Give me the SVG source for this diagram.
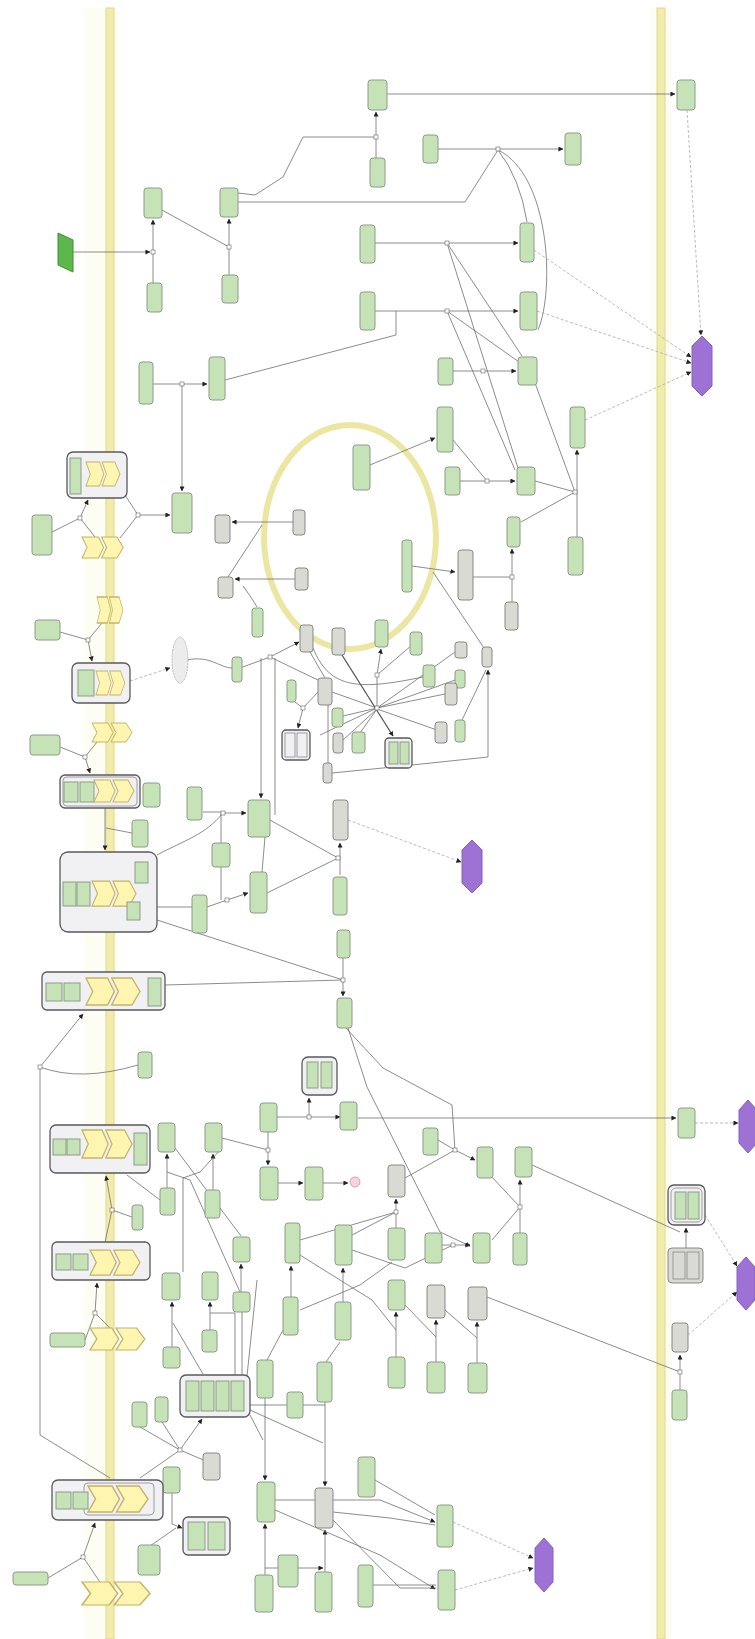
<svg xmlns="http://www.w3.org/2000/svg" xmlns:xlink="http://www.w3.org/1999/xlink" width="755" height="1639" viewBox="0 0 755 1639">
<style>
.n{fill:#c6e3b8;stroke:#8c9c88;stroke-width:1}
.g{fill:#d9dad4;stroke:#858a84;stroke-width:1}
.c{fill:#f1f1f4;stroke:#5a5a5e;stroke-width:1.3}
.ci{fill:none;stroke:#8a8a90;stroke-width:0.8}
.r{fill:#fdf5b0;stroke:#c4b36a;stroke-width:1}
.pu{fill:#9e72d4;stroke:#8461bd;stroke-width:1}
.e{fill:none;stroke:#6e6e6e;stroke-width:0.8}
.ed{fill:none;stroke:#555;stroke-width:1.3}
.d{fill:none;stroke:#a8a8b0;stroke-width:0.8;stroke-dasharray:3 2}
.band{fill:#f1ecab;stroke:#e2d88e;stroke-width:1}
.pr{fill:#fff;stroke:#666;stroke-width:0.6}
</style>
<defs>
<marker id="ar" viewBox="0 0 6 6" refX="5.5" refY="3" markerWidth="5" markerHeight="5" markerUnits="userSpaceOnUse" orient="auto"><path d="M0,0 L6,3 L0,6 z" fill="#222"/></marker>
<path id="rc" d="M0,0 H16 L21,10 L16,20 H0 L5,10 Z M19,0 H34 L40,10 L34,20 H19 L24,10 Z"/>
</defs>
<rect width="755" height="1639" fill="#ffffff"/>
<g id="membranes">
<rect x="84" y="8" width="34" height="1631" fill="#fefdf4"/>
<rect x="106" y="8" width="8" height="1631" class="band"/>
<rect x="650" y="8" width="22" height="1631" fill="#fefdf4"/>
<rect x="657" y="8" width="8" height="1631" class="band"/>
<ellipse id="nucleus" cx="350" cy="537" rx="86" ry="112" fill="none" stroke="#ebe6a2" stroke-width="6"/>
</g>
<g id="connectors">
<path class="e" d="M73,252 H150" marker-end="url(#ar)"/>
<path class="e" d="M153,283 V220" marker-end="url(#ar)"/>
<path class="e" d="M162,210 L229,247"/>
<path class="e" d="M229,275 V219" marker-end="url(#ar)"/>
<path class="e" d="M238,193 L255,195 L283,177 L303,137 H376"/>
<path class="e" d="M238,202 H465 L498,150"/>
<path class="e" d="M376,158 V112" marker-end="url(#ar)"/>
<path class="e" d="M387,94 H675" marker-end="url(#ar)"/>
<path class="e" d="M438,149 H563" marker-end="url(#ar)"/>
<path class="e" d="M498,150 Q520,178 527,222"/>
<path class="e" d="M498,150 C550,175 555,290 538,330"/>
<path class="e" d="M375,243 H518" marker-end="url(#ar)"/>
<path class="e" d="M375,311 H518" marker-end="url(#ar)"/>
<path class="e" d="M396,311 V335 L225,380"/>
<path class="e" d="M447,243 L522,356"/>
<path class="e" d="M447,243 L518,468"/>
<path class="e" d="M447,311 L519,362"/>
<path class="e" d="M447,311 L515,470"/>
<path class="e" d="M453,371 H516" marker-end="url(#ar)"/>
<path class="e" d="M460,481 H515" marker-end="url(#ar)"/>
<path class="e" d="M453,440 L487,481"/>
<path class="e" d="M535,481 L575,492"/>
<path class="e" d="M535,383 L575,492"/>
<path class="e" d="M577,537 V450" marker-end="url(#ar)"/>
<path class="e" d="M575,492 L521,522"/>
<path class="e" d="M473,577 H512"/>
<path class="e" d="M512,602 V549" marker-end="url(#ar)"/>
<path class="d" d="M585,420 L691,372" marker-end="url(#ar)"/>
<path class="d" d="M534,250 L691,357" marker-end="url(#ar)"/>
<path class="d" d="M537,311 L691,363" marker-end="url(#ar)"/>
<path class="d" d="M687,110 L701,335" marker-end="url(#ar)"/>
<path class="e" d="M370,465 L435,438" marker-end="url(#ar)"/>
<path class="e" d="M293,522 H232" marker-end="url(#ar)"/>
<path class="e" d="M295,579 H235" marker-end="url(#ar)"/>
<path class="e" d="M243,586 Q252,598 257,607"/>
<path class="e" d="M228,577 L262,525"/>
<path class="e" d="M412,566 L455,572" marker-end="url(#ar)"/>
<path class="e" d="M433,572 L484,648"/>
<path class="e" d="M332,773 L393,767 L488,757 V670" marker-end="url(#ar)"/>
<path class="e" d="M153,384 H207" marker-end="url(#ar)"/>
<path class="e" d="M182,384 V491" marker-end="url(#ar)"/>
<path class="e" d="M52,532 L80,518"/>
<path class="e" d="M95,537 L80,518 L88,500" marker-end="url(#ar)"/>
<path class="e" d="M125,495 L138,515 L120,538"/>
<path class="e" d="M138,515 H170" marker-end="url(#ar)"/>
<path class="e" d="M60,632 L88,640"/>
<path class="e" d="M102,623 L88,640 L92,661" marker-end="url(#ar)"/>
<path class="d" d="M130,681 L170,668" marker-end="url(#ar)"/>
<path class="e" d="M187,660 C210,655 220,668 232,668"/>
<path class="e" d="M240,668 L270,657 L299,642" marker-end="url(#ar)"/>
<path class="e" d="M261,658 V798" marker-end="url(#ar)"/>
<path class="e" d="M275,658 V815"/>
<path class="e" d="M270,657 L320,681"/>
<path class="e" d="M60,747 L85,757"/>
<path class="e" d="M97,742 L85,757 L90,773" marker-end="url(#ar)"/>
<path class="e" d="M105,808 V850" marker-end="url(#ar)"/>
<path class="e" d="M132,833 L106,828"/>
<path class="e" d="M313,648 C330,690 360,690 423,677"/>
<path class="ed" d="M342,655 L393,736" marker-end="url(#ar)"/>
<path class="e" d="M377,675 L381,649" marker-end="url(#ar)"/>
<path class="e" d="M412,645 L377,675"/>
<path class="e" d="M377,675 L377,708"/>
<path class="e" d="M455,652 L377,708"/>
<path class="e" d="M455,680 L377,708"/>
<path class="e" d="M445,694 L377,708"/>
<path class="e" d="M437,730 L377,709"/>
<path class="e" d="M332,692 L377,708"/>
<path class="e" d="M343,716 L377,708"/>
<path class="e" d="M343,740 L377,709"/>
<path class="e" d="M360,733 L377,709"/>
<path class="e" d="M462,720 L486,670"/>
<path class="e" d="M310,652 L325,678"/>
<path class="e" d="M295,702 L303,708"/>
<path class="e" d="M318,692 L303,708 L298,728" marker-end="url(#ar)"/>
<path class="e" d="M328,705 V763"/>
<path class="e" d="M377,708 L320,735"/>
<path class="e" d="M203,812 H223"/>
<path class="e" d="M223,813 H246" marker-end="url(#ar)"/>
<path class="e" d="M221,843 V813"/>
<path class="e" d="M221,867 V900"/>
<path class="e" d="M207,907 L227,900"/>
<path class="e" d="M227,900 L248,893" marker-end="url(#ar)"/>
<path class="e" d="M157,855 C185,840 205,835 223,813"/>
<path class="e" d="M157,907 H192"/>
<path class="e" d="M270,820 L338,858"/>
<path class="e" d="M267,893 L338,858"/>
<path class="e" d="M265,837 L262,872"/>
<path class="e" d="M340,875 V858"/>
<path class="e" d="M340,858 V843" marker-end="url(#ar)"/>
<path class="d" d="M348,820 L461,862" marker-end="url(#ar)"/>
<path class="e" d="M343,958 V996" marker-end="url(#ar)"/>
<path class="e" d="M157,920 L343,980"/>
<path class="e" d="M165,985 L343,980"/>
<path class="e" d="M40,1067 L83,1014" marker-end="url(#ar)"/>
<path class="e" d="M40,1067 Q80,1082 138,1065"/>
<path class="e" d="M40,1067 V1435 L110,1478"/>
<path class="e" d="M112,1210 L106,1176" marker-end="url(#ar)"/>
<path class="e" d="M132,1217 L112,1210 L105,1242"/>
<path class="e" d="M127,1175 L160,1200"/>
<path class="e" d="M95,1313 L97,1283" marker-end="url(#ar)"/>
<path class="e" d="M85,1340 L95,1313 L110,1328"/>
<path class="e" d="M48,1578 L83,1557"/>
<path class="e" d="M100,1582 L83,1557 L95,1523" marker-end="url(#ar)"/>
<path class="e" d="M140,1478 L180,1450 L202,1419" marker-end="url(#ar)"/>
<path class="e" d="M140,1427 L180,1450"/>
<path class="e" d="M162,1422 L180,1450 L208,1462"/>
<path class="e" d="M172,1493 V1524 L182,1528" marker-end="url(#ar)"/>
<path class="e" d="M150,1546 L176,1528"/>
<path class="e" d="M172,1347 V1302" marker-end="url(#ar)"/>
<path class="e" d="M173,1323 L203,1374"/>
<path class="e" d="M210,1330 V1302" marker-end="url(#ar)"/>
<path class="e" d="M210,1313 H235 V1375"/>
<path class="e" d="M242,1312 V1375"/>
<path class="e" d="M257,1280 L247,1376"/>
<path class="e" d="M250,1405 L287,1405"/>
<path class="e" d="M250,1415 L263,1440"/>
<path class="e" d="M250,1410 L323,1443"/>
<path class="e" d="M265,1398 V1480" marker-end="url(#ar)"/>
<path class="e" d="M265,1575 V1524" marker-end="url(#ar)"/>
<path class="e" d="M325,1402 V1486" marker-end="url(#ar)"/>
<path class="e" d="M325,1572 V1530" marker-end="url(#ar)"/>
<path class="e" d="M303,1405 H325"/>
<path class="e" d="M265,1568 H278"/>
<path class="e" d="M298,1568 H323" marker-end="url(#ar)"/>
<path class="e" d="M340,1342 L326,1362"/>
<path class="e" d="M283,1330 L267,1360"/>
<path class="e" d="M275,1500 H380 L435,1522" marker-end="url(#ar)"/>
<path class="e" d="M333,1512 L390,1518 L435,1525"/>
<path class="e" d="M375,1480 L435,1515"/>
<path class="e" d="M275,1510 L380,1555 L435,1589" marker-end="url(#ar)"/>
<path class="e" d="M333,1520 L400,1588 H436"/>
<path class="e" d="M373,1585 H436"/>
<path class="d" d="M453,1522 L533,1558" marker-end="url(#ar)"/>
<path class="d" d="M455,1590 L533,1568" marker-end="url(#ar)"/>
<path class="e" d="M277,1117 H340" marker-end="url(#ar)"/>
<path class="e" d="M309,1117 V1098" marker-end="url(#ar)"/>
<path class="e" d="M358,1118 H676" marker-end="url(#ar)"/>
<path class="d" d="M695,1123 H738" marker-end="url(#ar)"/>
<path class="e" d="M268,1132 V1165" marker-end="url(#ar)"/>
<path class="e" d="M222,1138 L268,1150"/>
<path class="e" d="M278,1183 H303" marker-end="url(#ar)"/>
<path class="e" d="M323,1183 H348" marker-end="url(#ar)"/>
<path class="e" d="M167,1188 V1154" marker-end="url(#ar)"/>
<path class="e" d="M213,1190 V1154" marker-end="url(#ar)"/>
<path class="e" d="M175,1148 L241,1236"/>
<path class="e" d="M222,1148 L200,1172 L183,1178 V1272"/>
<path class="e" d="M167,1172 L190,1180 L240,1292"/>
<path class="e" d="M241,1292 V1264" marker-end="url(#ar)"/>
<path class="e" d="M291,1298 V1266" marker-end="url(#ar)"/>
<path class="e" d="M300,1240 L396,1212"/>
<path class="e" d="M396,1228 V1199" marker-end="url(#ar)"/>
<path class="e" d="M343,1302 V1268" marker-end="url(#ar)"/>
<path class="e" d="M352,1235 L396,1212"/>
<path class="e" d="M345,1027 L383,1068 L452,1105 L455,1150 L475,1160" marker-end="url(#ar)"/>
<path class="e" d="M438,1140 L455,1150"/>
<path class="e" d="M348,1028 L367,1087 L440,1232 L470,1246" marker-end="url(#ar)"/>
<path class="e" d="M405,1178 L455,1150"/>
<path class="e" d="M490,1175 L520,1207"/>
<path class="e" d="M520,1207 V1180" marker-end="url(#ar)"/>
<path class="e" d="M520,1233 V1207 L492,1240"/>
<path class="e" d="M532,1165 L680,1232"/>
<path class="e" d="M686,1248 V1228" marker-end="url(#ar)"/>
<path class="d" d="M705,1215 L737,1266" marker-end="url(#ar)"/>
<path class="d" d="M688,1335 L737,1292" marker-end="url(#ar)"/>
<path class="e" d="M680,1390 V1355" marker-end="url(#ar)"/>
<path class="e" d="M487,1297 L680,1372"/>
<path class="e" d="M396,1357 V1312" marker-end="url(#ar)"/>
<path class="e" d="M436,1362 V1320" marker-end="url(#ar)"/>
<path class="e" d="M477,1363 V1322" marker-end="url(#ar)"/>
<path class="e" d="M300,1255 L372,1300 L396,1330"/>
<path class="e" d="M405,1305 L436,1337"/>
<path class="e" d="M445,1310 L477,1338"/>
<path class="e" d="M442,1245 H470" marker-end="url(#ar)"/>
<path class="e" d="M352,1250 L405,1268 L453,1245"/>
<path class="e" d="M300,1310 L360,1285 L392,1262"/>
</g>
<g id="process-nodes">
<rect class="pr" x="151" y="250" width="4" height="4"/>
<rect class="pr" x="227" y="245" width="4" height="4"/>
<rect class="pr" x="374" y="135" width="4" height="4"/>
<rect class="pr" x="496" y="147" width="4" height="4"/>
<rect class="pr" x="445" y="241" width="4" height="4"/>
<rect class="pr" x="445" y="309" width="4" height="4"/>
<rect class="pr" x="481" y="369" width="4" height="4"/>
<rect class="pr" x="485" y="479" width="4" height="4"/>
<rect class="pr" x="573" y="490" width="4" height="4"/>
<rect class="pr" x="510" y="575" width="4" height="4"/>
<rect class="pr" x="180" y="382" width="4" height="4"/>
<rect class="pr" x="268" y="655" width="4" height="4"/>
<rect class="pr" x="375" y="673" width="4" height="4"/>
<rect class="pr" x="375" y="706" width="4" height="4"/>
<rect class="pr" x="301" y="706" width="4" height="4"/>
<rect class="pr" x="221" y="811" width="4" height="4"/>
<rect class="pr" x="225" y="898" width="4" height="4"/>
<rect class="pr" x="336" y="856" width="4" height="4"/>
<rect class="pr" x="341" y="978" width="4" height="4"/>
<rect class="pr" x="307" y="1115" width="4" height="4"/>
<rect class="pr" x="266" y="1148" width="4" height="4"/>
<rect class="pr" x="453" y="1148" width="4" height="4"/>
<rect class="pr" x="518" y="1205" width="4" height="4"/>
<rect class="pr" x="394" y="1210" width="4" height="4"/>
<rect class="pr" x="451" y="1243" width="4" height="4"/>
<rect class="pr" x="678" y="1370" width="4" height="4"/>
<rect class="pr" x="178" y="1448" width="4" height="4"/>
<rect class="pr" x="81" y="1555" width="4" height="4"/>
<rect class="pr" x="93" y="1311" width="4" height="4"/>
<rect class="pr" x="110" y="1208" width="4" height="4"/>
<rect class="pr" x="38" y="1065" width="4" height="4"/>
<rect class="pr" x="78" y="516" width="4" height="4"/>
<rect class="pr" x="136" y="513" width="4" height="4"/>
<rect class="pr" x="86" y="638" width="4" height="4"/>
<rect class="pr" x="83" y="755" width="4" height="4"/>
</g>
<g id="perturbation"><path d="M58,233 L73,240 L73,272 L58,265 Z" fill="#5cb84a" stroke="#3e8e33" stroke-width="1"/></g>
<g id="n-top">
<rect class="n" x="144" y="188" width="18" height="30" rx="3"/>
<rect class="n" x="147" y="283" width="15" height="29" rx="3"/>
<rect class="n" x="220" y="188" width="18" height="29" rx="3"/>
<rect class="n" x="222" y="275" width="16" height="28" rx="3"/>
<rect class="n" x="368" y="80" width="19" height="30" rx="3"/>
<rect class="n" x="370" y="158" width="15" height="29" rx="3"/>
<rect class="n" x="423" y="135" width="15" height="28" rx="3"/>
<rect class="n" x="565" y="133" width="16" height="32" rx="3"/>
<rect class="n" x="677" y="80" width="18" height="30" rx="3"/>
<rect class="n" x="360" y="225" width="15" height="38" rx="3"/>
<rect class="n" x="360" y="292" width="15" height="38" rx="3"/>
<rect class="n" x="520" y="223" width="14" height="39" rx="3"/>
<rect class="n" x="520" y="292" width="17" height="38" rx="3"/>
<rect class="n" x="438" y="358" width="15" height="27" rx="3"/>
<rect class="n" x="518" y="357" width="19" height="28" rx="3"/>
<rect class="n" x="437" y="407" width="16" height="45" rx="3"/>
<rect class="n" x="445" y="467" width="15" height="28" rx="3"/>
<rect class="n" x="517" y="467" width="18" height="28" rx="3"/>
<rect class="n" x="570" y="407" width="15" height="41" rx="3"/>
<rect class="n" x="568" y="537" width="15" height="38" rx="3"/>
<rect class="n" x="507" y="517" width="13" height="30" rx="3"/>
<rect class="g" x="458" y="550" width="15" height="50" rx="3"/>
<rect class="g" x="505" y="602" width="13" height="28" rx="3"/>
</g>
<g id="n-left-upper">
<rect class="n" x="139" y="362" width="14" height="42" rx="3"/>
<rect class="n" x="209" y="357" width="16" height="43" rx="3"/>
<rect class="n" x="172" y="493" width="20" height="40" rx="3"/>
<rect class="n" x="32" y="515" width="20" height="40" rx="3"/>
<rect class="g" x="215" y="515" width="15" height="28" rx="3"/>
<rect class="g" x="218" y="577" width="15" height="21" rx="3"/>
<rect class="n" x="252" y="608" width="11" height="29" rx="3"/>
<rect class="n" x="35" y="620" width="25" height="20" rx="3"/>
<ellipse cx="180" cy="660" rx="8" ry="23" fill="#ececec" stroke="#aaa" stroke-width="0.8" stroke-dasharray="2 1"/>
<rect class="n" x="232" y="657" width="10" height="25" rx="3"/>
<rect class="n" x="30" y="735" width="30" height="20" rx="3"/>
<rect class="n" x="143" y="783" width="17" height="24" rx="3"/>
<rect class="n" x="187" y="787" width="15" height="33" rx="3"/>
</g>
<g id="n-nucleus">
<rect class="n" x="353" y="445" width="17" height="45" rx="3"/>
<rect class="g" x="293" y="510" width="12" height="25" rx="3"/>
<rect class="g" x="295" y="568" width="13" height="22" rx="3"/>
<rect class="n" x="402" y="540" width="10" height="52" rx="3"/>
<rect class="g" x="300" y="625" width="13" height="27" rx="3"/>
<rect class="g" x="332" y="628" width="13" height="27" rx="3" stroke="#7a8cc0"/>
<rect class="n" x="375" y="620" width="13" height="27" rx="3"/>
</g>
<g id="n-hub">
<rect class="n" x="287" y="680" width="9" height="22" rx="3"/>
<rect class="g" x="318" y="678" width="14" height="27" rx="3"/>
<rect class="c" x="282" y="730" width="28" height="30" rx="4"/>
<rect class="ci" x="285" y="733" width="10" height="24"/>
<rect class="ci" x="297" y="733" width="10" height="24"/>
<rect class="g" x="323" y="763" width="9" height="20" rx="3"/>
<rect class="n" x="332" y="708" width="11" height="19" rx="3"/>
<rect class="g" x="333" y="733" width="10" height="20" rx="3"/>
<rect class="n" x="352" y="732" width="13" height="21" rx="3"/>
<rect class="c" x="385" y="738" width="27" height="30" rx="4"/>
<rect class="n" x="389" y="742" width="9" height="22"/>
<rect class="n" x="400" y="742" width="9" height="22"/>
<rect class="n" x="410" y="632" width="12" height="23" rx="3"/>
<rect class="n" x="423" y="665" width="12" height="22" rx="3"/>
<rect class="g" x="455" y="642" width="12" height="16" rx="3"/>
<rect class="n" x="455" y="670" width="10" height="18" rx="3"/>
<rect class="g" x="445" y="683" width="12" height="22" rx="3"/>
<rect class="g" x="435" y="722" width="12" height="21" rx="3"/>
<rect class="n" x="455" y="720" width="10" height="22" rx="3"/>
<rect class="g" x="482" y="647" width="10" height="20" rx="3"/>
</g>
<g id="n-mid">
<rect class="n" x="132" y="820" width="16" height="27" rx="3"/>
<rect class="n" x="248" y="800" width="22" height="37" rx="3"/>
<rect class="n" x="212" y="843" width="18" height="24" rx="3"/>
<rect class="n" x="192" y="895" width="15" height="38" rx="3"/>
<rect class="n" x="250" y="872" width="17" height="41" rx="3"/>
<rect class="g" x="333" y="800" width="15" height="40" rx="3"/>
<rect class="n" x="333" y="877" width="14" height="38" rx="3"/>
<rect class="n" x="337" y="930" width="13" height="28" rx="3"/>
<rect class="n" x="337" y="998" width="15" height="30" rx="3"/>
<rect class="n" x="138" y="1052" width="14" height="26" rx="3"/>
<rect class="n" x="132" y="1205" width="11" height="25" rx="3"/>
</g>
<g id="n-lower-mid">
<rect class="c" x="302" y="1057" width="35" height="38" rx="6"/>
<rect class="n" x="307" y="1062" width="11" height="26"/>
<rect class="n" x="321" y="1062" width="11" height="26"/>
<rect class="n" x="260" y="1103" width="17" height="29" rx="3"/>
<rect class="n" x="340" y="1102" width="17" height="28" rx="3"/>
<rect class="n" x="260" y="1167" width="18" height="33" rx="3"/>
<rect class="n" x="305" y="1167" width="18" height="33" rx="3"/>
<circle cx="355" cy="1182" r="5" fill="#f6d6dc" stroke="#d88a9a" stroke-width="0.8"/>
<rect class="n" x="158" y="1123" width="17" height="29" rx="3"/>
<rect class="n" x="205" y="1123" width="17" height="29" rx="3"/>
<rect class="n" x="160" y="1188" width="15" height="27" rx="3"/>
<rect class="n" x="205" y="1190" width="15" height="28" rx="3"/>
<rect class="n" x="233" y="1237" width="17" height="25" rx="3"/>
<rect class="n" x="285" y="1223" width="15" height="40" rx="3"/>
<rect class="n" x="335" y="1225" width="17" height="40" rx="3"/>
<rect class="g" x="388" y="1165" width="17" height="32" rx="3"/>
<rect class="n" x="423" y="1128" width="15" height="27" rx="3"/>
<rect class="n" x="477" y="1147" width="16" height="31" rx="3"/>
<rect class="n" x="515" y="1147" width="17" height="30" rx="3"/>
<rect class="n" x="388" y="1228" width="17" height="32" rx="3"/>
<rect class="n" x="425" y="1233" width="17" height="30" rx="3"/>
<rect class="n" x="473" y="1233" width="17" height="30" rx="3"/>
<rect class="n" x="513" y="1233" width="14" height="32" rx="3"/>
<rect class="n" x="162" y="1273" width="18" height="27" rx="3"/>
<rect class="n" x="202" y="1272" width="16" height="28" rx="3"/>
<rect class="n" x="233" y="1292" width="17" height="20" rx="3"/>
<rect class="n" x="283" y="1297" width="15" height="38" rx="3"/>
<rect class="n" x="335" y="1302" width="16" height="38" rx="3"/>
<rect class="n" x="388" y="1280" width="17" height="30" rx="3"/>
<rect class="g" x="427" y="1285" width="18" height="33" rx="3"/>
<rect class="g" x="468" y="1287" width="19" height="33" rx="3"/>
<rect class="n" x="388" y="1357" width="17" height="31" rx="3"/>
<rect class="n" x="427" y="1362" width="18" height="31" rx="3"/>
<rect class="n" x="468" y="1363" width="19" height="30" rx="3"/>
</g>
<g id="n-bottom">
<rect class="c" x="180" y="1375" width="70" height="42" rx="6"/>
<rect class="n" x="186" y="1381" width="13" height="30"/>
<rect class="n" x="201" y="1381" width="13" height="30"/>
<rect class="n" x="216" y="1381" width="13" height="30"/>
<rect class="n" x="231" y="1381" width="13" height="30"/>
<rect class="n" x="163" y="1347" width="17" height="21" rx="3"/>
<rect class="n" x="202" y="1330" width="15" height="22" rx="3"/>
<rect class="n" x="257" y="1360" width="16" height="38" rx="3"/>
<rect class="n" x="287" y="1392" width="16" height="26" rx="3"/>
<rect class="n" x="317" y="1362" width="15" height="40" rx="3"/>
<rect class="n" x="132" y="1402" width="15" height="25" rx="3"/>
<rect class="n" x="155" y="1397" width="13" height="25" rx="3"/>
<rect class="g" x="203" y="1453" width="17" height="27" rx="3"/>
<rect class="n" x="257" y="1482" width="18" height="40" rx="3"/>
<rect class="g" x="315" y="1488" width="18" height="40" rx="3"/>
<rect class="n" x="358" y="1457" width="17" height="40" rx="3"/>
<rect class="n" x="163" y="1467" width="17" height="26" rx="3"/>
<rect class="c" x="183" y="1517" width="47" height="38" rx="5"/>
<rect class="n" x="188" y="1522" width="17" height="28"/>
<rect class="n" x="208" y="1522" width="17" height="28"/>
<rect class="n" x="138" y="1545" width="22" height="30" rx="3"/>
<rect class="n" x="278" y="1555" width="20" height="32" rx="3"/>
<rect class="n" x="255" y="1575" width="18" height="37" rx="3"/>
<rect class="n" x="315" y="1572" width="17" height="40" rx="3"/>
<rect class="n" x="358" y="1565" width="15" height="42" rx="3"/>
<rect class="n" x="437" y="1505" width="16" height="42" rx="3"/>
<rect class="n" x="438" y="1570" width="17" height="40" rx="3"/>
<rect class="n" x="13" y="1572" width="35" height="13" rx="3"/>
<rect class="n" x="50" y="1333" width="35" height="14" rx="3"/>
</g>
<g id="n-right">
<rect class="n" x="678" y="1108" width="17" height="30" rx="3"/>
<rect class="c" x="668" y="1185" width="37" height="40" rx="6"/>
<rect class="ci" x="671" y="1188" width="31" height="34" rx="5"/>
<rect class="n" x="675" y="1192" width="11" height="27"/>
<rect class="n" x="688" y="1192" width="11" height="27"/>
<rect class="g" x="668" y="1248" width="35" height="35" rx="4"/>
<rect class="ci" x="673" y="1252" width="12" height="27"/>
<rect class="ci" x="687" y="1252" width="12" height="27"/>
<rect class="g" x="672" y="1323" width="16" height="29" rx="3"/>
<rect class="n" x="672" y="1390" width="15" height="30" rx="3"/>
</g>
<g id="phenotypes">
<path class="pu" d="M702,336 L712,346 L712,386 L702,396 L692,386 L692,346 Z"/>
<path class="pu" d="M472,840 L482,850 L482,883 L472,893 L462,883 L462,850 Z"/>
<path class="pu" d="M748,1100 L757,1110 L757,1143 L748,1153 L739,1143 L739,1110 Z"/>
<path class="pu" d="M746,1257 L755,1267 L755,1300 L746,1310 L737,1300 L737,1267 Z"/>
<path class="pu" d="M544,1538 L553,1548 L553,1582 L544,1592 L535,1582 L535,1548 Z"/>
</g>
<g id="complexes">
<g id="C1"><rect class="c" x="67" y="452" width="60" height="46" rx="6"/><rect class="n" x="70" y="458" width="11" height="36"/><use href="#rc" class="r" transform="translate(86,462) scale(0.85,1.2)"/></g>
<g id="R1"><use href="#rc" class="r" transform="translate(82,537) scale(1.03,1.05)"/></g>
<g id="R2"><use href="#rc" class="r" transform="translate(97,597) scale(0.65,1.3)"/></g>
<g id="C2"><rect class="c" x="72" y="663" width="58" height="40" rx="6"/><rect class="n" x="78" y="670" width="16" height="26"/><use href="#rc" class="r" transform="translate(96,671) scale(0.72,1.2)"/></g>
<g id="R3"><use href="#rc" class="r" transform="translate(92,723) scale(1,0.95)"/></g>
<g id="C3"><rect class="c" x="60" y="775" width="80" height="33" rx="5"/><rect class="ci" x="63" y="777" width="74" height="29" rx="4"/><rect class="n" x="64" y="782" width="14" height="20"/><rect class="n" x="80" y="782" width="14" height="20"/><use href="#rc" class="r" transform="translate(94,780) scale(1,1.1)"/></g>
<g id="C4"><rect class="c" x="60" y="852" width="97" height="80" rx="8"/><rect class="n" x="63" y="882" width="13" height="24"/><rect class="n" x="77" y="882" width="13" height="24"/><use href="#rc" class="r" transform="translate(92,881) scale(1.1,1.25)"/><rect class="n" x="135" y="862" width="13" height="21"/><rect class="n" x="127" y="902" width="13" height="18"/></g>
<g id="C4b"><rect class="c" x="42" y="972" width="123" height="38" rx="5"/><rect class="n" x="46" y="983" width="16" height="18"/><rect class="n" x="64" y="983" width="16" height="18"/><use href="#rc" class="r" transform="translate(86,978) scale(1.35,1.35)"/><rect class="n" x="148" y="978" width="13" height="28"/></g>
<g id="C5"><rect class="c" x="50" y="1125" width="100" height="48" rx="6"/><rect class="n" x="53" y="1139" width="13" height="16"/><rect class="n" x="67" y="1139" width="13" height="16"/><use href="#rc" class="r" transform="translate(82,1130) scale(1.25,1.4)"/><rect class="n" x="134" y="1133" width="13" height="32"/></g>
<g id="C6"><rect class="c" x="52" y="1242" width="98" height="38" rx="5"/><rect class="n" x="56" y="1254" width="15" height="16"/><rect class="n" x="73" y="1254" width="15" height="16"/><use href="#rc" class="r" transform="translate(90,1250) scale(1.25,1.25)"/></g>
<g id="R4"><use href="#rc" class="r" transform="translate(90,1328) scale(1.37,1.1)"/></g>
<g id="C7"><rect class="c" x="52" y="1480" width="111" height="40" rx="6"/><rect class="ci" x="84" y="1483" width="70" height="32" rx="4"/><rect class="n" x="56" y="1492" width="15" height="17"/><rect class="n" x="73" y="1492" width="15" height="17"/><use href="#rc" class="r" transform="translate(88,1486) scale(1.5,1.3)"/></g>
<g id="R5"><use href="#rc" class="r" transform="translate(82,1582) scale(1.7,1.15)"/></g>
</g>
</svg>
